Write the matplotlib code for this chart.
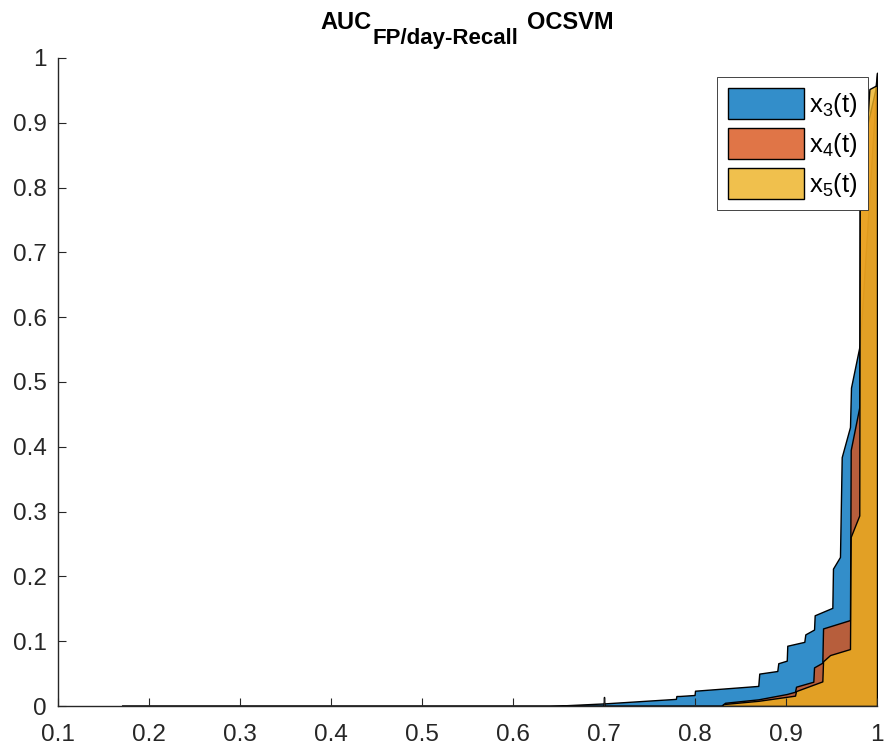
import numpy as np
import matplotlib
matplotlib.use('Agg')
import matplotlib.pyplot as plt

plt.rcParams['font.family'] = ['Liberation Sans', 'DejaVu Sans']
plt.rcParams['mathtext.fontset'] = 'custom'
plt.rcParams['mathtext.rm'] = 'Liberation Sans'
plt.rcParams['mathtext.it'] = 'Liberation Sans'
plt.rcParams['mathtext.bf'] = 'Liberation Sans:bold'

# --- Curvas (AUC ordenado vs. fraccion acumulada) -----------------------------
x3_x = [0.17, 0.64, 0.70, 0.779, 0.7795, 0.7835, 0.7995, 0.800, 0.8695, 0.8706,
        0.8904, 0.8915, 0.9008, 0.9014, 0.9201, 0.9212, 0.9308, 0.9315, 0.9509,
        0.9516, 0.9593, 0.9612, 0.9703, 0.9714, 0.9813, 0.998, 1.0]
x3_y = [0.0, 0.0, 0.004, 0.011, 0.0154, 0.0155, 0.017, 0.0236, 0.031, 0.050,
        0.054, 0.066, 0.070, 0.093, 0.099, 0.1105, 0.118, 0.140, 0.1515,
        0.212, 0.230, 0.384, 0.4305, 0.4913, 0.559, 0.93, 0.977]

x4_x = [0.17, 0.829, 0.833, 0.8696, 0.9008, 0.9099, 0.911, 0.930, 0.9308, 0.9399,
        0.9407, 0.9703, 0.9711, 0.9805, 0.981, 0.985, 0.998, 1.0]
x4_y = [0.0, 0.0, 0.005, 0.0103, 0.0185, 0.022, 0.0298, 0.0375, 0.0596, 0.0668,
        0.1197, 0.1326, 0.395, 0.461, 0.81, 0.87, 0.95, 0.977]

x5_x = [0.17, 0.6995, 0.70, 0.7005, 0.829, 0.831, 0.8696, 0.9099, 0.911, 0.9399,
        0.9407, 0.9484, 0.9703, 0.9711, 0.9805, 0.981, 0.985, 0.9916, 0.9997, 1.0]
x5_y = [0.0, 0.0, 0.014, 0.0, 0.0, 0.003, 0.008, 0.016, 0.023, 0.038,
        0.069, 0.0786, 0.0879, 0.261, 0.294, 0.77, 0.805, 0.952, 0.958, 0.96]

etiquetas = ['x$_3$(t)', 'x$_4$(t)', 'x$_5$(t)']
colores = [(0.0, 0.447, 0.741), (0.85, 0.325, 0.098), (0.929, 0.694, 0.125)]

xticks = [0.1, 0.2, 0.3, 0.4, 0.5, 0.6, 0.7, 0.8, 0.9, 1.0]
xtick_lbl = ['0.1', '0.2', '0.3', '0.4', '0.5', '0.6', '0.7', '0.8', '0.9', '1']
yticks = [0.0, 0.1, 0.2, 0.3, 0.4, 0.5, 0.6, 0.7, 0.8, 0.9, 1.0]
ytick_lbl = ['0', '0.1', '0.2', '0.3', '0.4', '0.5', '0.6', '0.7', '0.8', '0.9', '1']

# --- Figura ------------------------------------------------------------------
W, H = 884, 749
fig = plt.figure(figsize=(W / 100, H / 100), dpi=100)
ax = fig.add_axes([0.0656, 0.0574, 0.9265, 0.8652])

gris = '#262626'
for xs, ys, c, lbl in zip([x3_x, x4_x, x5_x], [x3_y, x4_y, x5_y], colores, etiquetas):
    ax.fill_between(xs, ys, 0, facecolor=(*c, 0.8), edgecolor='k', linewidth=1.0, label=lbl)

ax.set_xlim(0.1, 1.0)
ax.set_ylim(0, 1)
ax.set_xticks(xticks)
ax.set_xticklabels(xtick_lbl)
ax.set_yticks(yticks)
ax.set_yticklabels(ytick_lbl)
ax.tick_params(direction='in', length=6, width=0.8, colors=gris, labelsize=17.5)
ax.tick_params(axis='x', pad=13)
ax.tick_params(axis='y', pad=8)
ax.spines['top'].set_visible(False)
ax.spines['right'].set_visible(False)
for s in ['left', 'bottom']:
    ax.spines[s].set_color(gris)
    ax.spines[s].set_linewidth(1.0)

# --- Titulo con subindice (armado a mano) ------------------------------------
renderer = fig.canvas.get_renderer()
partes = [('AUC', 17, 29.0), ('FP/day-Recall', 16, 44.0), ('OCSVM', 17, 29.0)]
textos = []
for txt, fs, base in partes:
    t = fig.text(0, 1 - base / H, txt, fontsize=fs, weight='bold', va='baseline', ha='left')
    textos.append(t)
anchos = [t.get_window_extent(renderer).width for t in textos]
gap = 8
total = sum(anchos) + gap + 1
x0 = 467 - total / 2
textos[0].set_x(x0 / W)
textos[1].set_x((x0 + anchos[0] + 1) / W)
textos[2].set_x((x0 + anchos[0] + 1 + anchos[1] + gap) / W)

leg = ax.legend(loc='upper right', bbox_to_anchor=(0.989, 0.9707), borderaxespad=0,
                fontsize=18.5, handlelength=2.95, handleheight=1.47, labelspacing=0.36,
                handletextpad=0.2, borderpad=0.42, fancybox=False, framealpha=1,
                edgecolor=gris)
leg.get_frame().set_linewidth(0.6)

plt.savefig('out.png', dpi=100)
